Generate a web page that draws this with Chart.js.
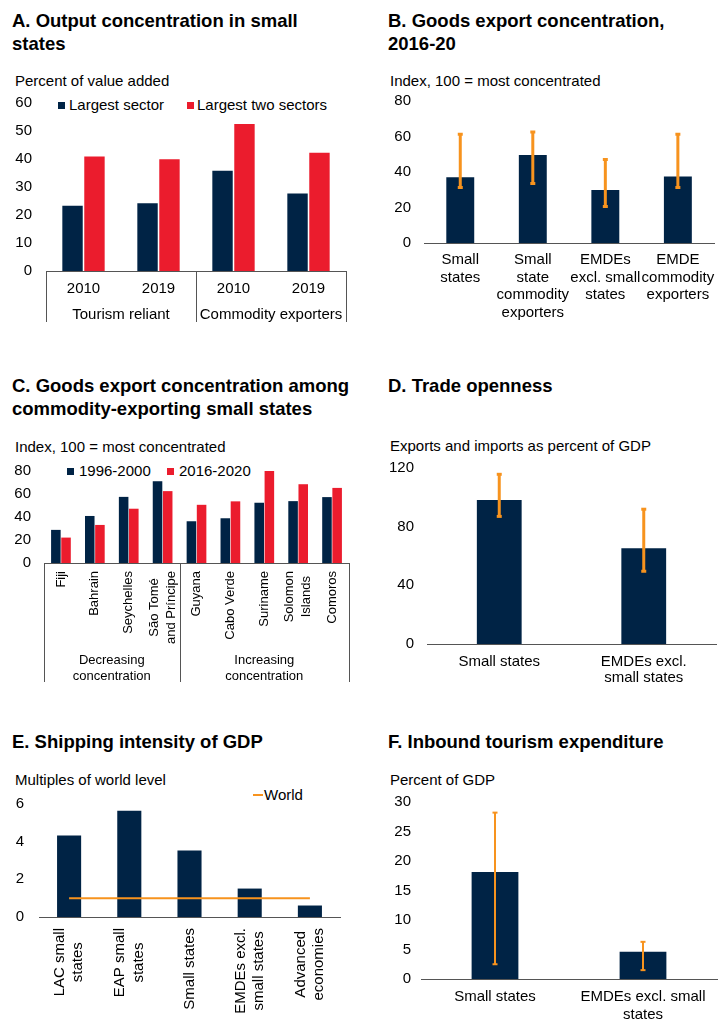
<!DOCTYPE html>
<html>
<head>
<meta charset="utf-8">
<title>Small states: concentration, openness, shipping and tourism</title>
<script src="https://cdn.jsdelivr.net/npm/chart.js@4.4.1/dist/chart.umd.min.js"></script>
<style>
  body { margin: 0; width: 723px; height: 1020px; position: relative; overflow: hidden; background: #fff;
         font-family: 'Liberation Sans', Arial, Helvetica, sans-serif; color: #000; }
  .title { position: absolute; font-weight: bold; font-size: 18.5px; line-height: 23.3px; white-space: nowrap; }
  .unit, .leg { position: absolute; font-size: 15px; line-height: 18px; white-space: nowrap; }
  .sw { position: absolute; width: 7px; height: 7px; }
  .box { position: absolute; }
  canvas { display: block; }
</style>
</head>
<body>

<!-- A -->
<div class="title" style="left:12px;top:9px">A. Output concentration in small<br>states</div>
<div class="unit" style="left:15px;top:72px">Percent of value added</div>
<div class="sw" style="left:58px;top:102px;background:#002345"></div>
<div class="leg" style="left:69px;top:96px">Largest sector</div>
<div class="sw" style="left:187px;top:102px;background:#EB1C2D"></div>
<div class="leg" style="left:197px;top:96px">Largest two sectors</div>
<div class="box" style="left:0;top:80px"><canvas id="chartA" width="362" height="260"></canvas></div>

<!-- B -->
<div class="title" style="left:388px;top:9px">B. Goods export concentration,<br>2016-20</div>
<div class="unit" style="left:390px;top:72px">Index, 100 = most concentrated</div>
<div class="box" style="left:362px;top:79px"><canvas id="chartB" width="361" height="249"></canvas></div>

<!-- C -->
<div class="title" style="left:12px;top:374px">C. Goods export concentration among<br>commodity-exporting small states</div>
<div class="unit" style="left:15px;top:438px">Index, 100 = most concentrated</div>
<div class="sw" style="left:67px;top:468px;background:#002345"></div>
<div class="leg" style="left:79px;top:462px">1996-2000</div>
<div class="sw" style="left:167px;top:468px;background:#EB1C2D"></div>
<div class="leg" style="left:179px;top:462px">2016-2020</div>
<div class="box" style="left:0;top:449px"><canvas id="chartC" width="362" height="241"></canvas></div>

<!-- D -->
<div class="title" style="left:388px;top:374px">D. Trade openness</div>
<div class="unit" style="left:390px;top:437px">Exports and imports as percent of GDP</div>
<div class="box" style="left:362px;top:446px"><canvas id="chartD" width="361" height="249"></canvas></div>

<!-- E -->
<div class="title" style="left:12px;top:730px">E. Shipping intensity of GDP</div>
<div class="unit" style="left:15px;top:771px">Multiples of world level</div>
<div style="position:absolute;left:253px;top:794px;width:10px;height:2px;background:#F7931E"></div>
<div class="leg" style="left:264px;top:786px">World</div>
<div class="box" style="left:0;top:780px"><canvas id="chartE" width="362" height="240"></canvas></div>

<!-- F -->
<div class="title" style="left:388px;top:730px">F. Inbound tourism expenditure</div>
<div class="unit" style="left:390px;top:771px">Percent of GDP</div>
<div class="box" style="left:362px;top:783px"><canvas id="chartF" width="361" height="237"></canvas></div>

<script>
// A. output concentration
const yearsA = ['2010', '2019', '2010', '2019'];
const groupsA = ['Tourism reliant', 'Commodity exporters'];
const groupSizesA = [2, 2];
const largestSector = [23.3, 24.2, 35.8, 27.7];
const largestTwo = [40.9, 39.9, 52.5, 42.2];

// B. goods export concentration, bar = median, whiskers = interquartile range
const labelsB = [['Small', 'states'], ['Small', 'state', 'commodity', 'exporters'], ['EMDEs', 'excl. small', 'states'], ['EMDE', 'commodity', 'exporters']];
const exportConc = [37.1, 49.6, 29.8, 37.4];
const exportLow = [31.3, 33.5, 20.6, 31.3];
const exportHigh = [61.3, 62.6, 47.0, 61.3];

// C. commodity-exporting small states
const countriesC = ['Fiji', 'Bahrain', 'Seychelles', ['São Tomé', 'and Príncipe'], 'Guyana', 'Cabo Verde', 'Suriname', ['Solomon', 'Islands'], 'Comoros'];
const groupsC = [['Decreasing', 'concentration'], ['Increasing', 'concentration']];
const groupSizesC = [4, 5];
const conc9600 = [28.8, 40.9, 57.5, 71.1, 36.3, 38.9, 52.4, 53.8, 57.3];
const conc1620 = [22.1, 33.1, 47.2, 62.5, 50.6, 53.6, 80.0, 68.5, 65.3];

// D. trade openness
const labelsD = ['Small states', ['EMDEs excl.', 'small states']];
const openness = [98.2, 65.2];
const opennessLow = [87.0, 49.6];
const opennessHigh = [115.7, 91.9];

// E. shipping intensity
const labelsE = [['LAC small', 'states'], ['EAP small', 'states'], 'Small states', ['EMDEs excl.', 'small states'], ['Advanced', 'economies']];
const shipping = [4.33, 5.64, 3.53, 1.51, 0.61];
const worldLevel = [1, 1, 1, 1, 1];

// F. inbound tourism
const labelsF = ['Small states', ['EMDEs excl. small', 'states']];
const tourism = [18.15, 4.6];
const tourismLow = [2.5, 1.5];
const tourismHigh = [28.2, 6.3];

const NAVY = '#002345';
const RED = '#EB1C2D';
const ORANGE = '#F7931E';
const AXIS = '#555555';
const FONT = "'Liberation Sans', Arial, Helvetica, sans-serif";

Chart.defaults.font.family = FONT;
Chart.defaults.font.size = 15;
Chart.defaults.color = '#000';
Chart.defaults.animation = false;
Chart.defaults.responsive = false;
Chart.defaults.events = [];
Chart.defaults.plugins.legend.display = false;
Chart.defaults.plugins.tooltip.enabled = false;

// group labels under the category axis, with the dividers between groups
const groupAxis = {
    id: 'groupAxis',
    afterDraw(chart, args, opts) {
        const x = chart.scales.x;
        const ctx = chart.ctx;
        const half = (x.getPixelForValue(1) - x.getPixelForValue(0)) / 2;
        const edges = [x.getPixelForValue(0) - half];
        let start = 0;
        ctx.save();
        ctx.font = opts.font;
        ctx.fillStyle = '#000';
        ctx.textAlign = 'center';
        ctx.textBaseline = 'middle';
        opts.groups.forEach((g, i) => {
            const n = opts.sizes[i];
            const left = x.getPixelForValue(start) - half;
            const right = x.getPixelForValue(start + n - 1) + half;
            edges.push(right);
            [].concat(g).forEach((line, j) => {
                ctx.fillText(line, (left + right) / 2, x.top + opts.textTop + j * opts.lineHeight);
            });
            start += n;
        });
        ctx.strokeStyle = AXIS;
        ctx.lineWidth = 1;
        edges.forEach(e => {
            const px = Math.round(e) + 0.5;
            ctx.beginPath();
            ctx.moveTo(px, x.top);
            ctx.lineTo(px, x.top + opts.lineTo);
            ctx.stroke();
        });
        ctx.restore();
    }
};

// category labels turned 90 degrees, wrapped lines centred on each other
// and the whole block centred on its category
const verticalLabels = {
    id: 'verticalLabels',
    afterDraw(chart, args, opts) {
        const x = chart.scales.x;
        const ctx = chart.ctx;
        ctx.save();
        ctx.font = opts.font;
        ctx.fillStyle = '#000';
        ctx.textAlign = 'center';
        ctx.textBaseline = 'middle';
        chart.data.labels.forEach((label, i) => {
            const lines = [].concat(label);
            const widest = Math.max(...lines.map(l => ctx.measureText(l).width));
            ctx.save();
            ctx.translate(x.getPixelForValue(i), x.top + opts.padding + widest / 2);
            ctx.rotate(-Math.PI / 2);
            lines.forEach((line, j) => {
                ctx.fillText(line, 0, (j - (lines.length - 1) / 2) * opts.lineHeight);
            });
            ctx.restore();
        });
        ctx.restore();
    }
};

// the tick padding also pads the top of the plot (half a label + padding)
function yAxis(max, step, width, pad) {
    return {
        min: 0,
        max: max,
        grid: { display: false, drawTicks: false },
        border: { display: false },
        ticks: { stepSize: step, padding: pad },
        afterFit: (s) => { s.width = width; }
    };
}

function xAxis(height, ticks) {
    return {
        grid: { display: false, drawTicks: false },
        border: { display: true, color: AXIS, width: 1 },
        ticks: Object.assign({ autoSkip: false, maxRotation: 0, minRotation: 0, padding: 8 }, ticks),
        afterFit: (s) => { s.height = height; }
    };
}

// whisker = thin floating bar plus a short cap at each end
function whiskers(low, high, thick) {
    const cap = {
        type: 'line',
        showLine: false,
        pointStyle: 'line',
        pointRadius: 2.5,
        pointBorderWidth: thick,
        pointBorderColor: ORANGE,
        order: 0
    };
    return [
        { type: 'bar', data: low.map((v, i) => [v, high[i]]), backgroundColor: ORANGE, grouped: false, maxBarThickness: thick, order: 0 },
        Object.assign({ data: high }, cap),
        Object.assign({ data: low }, cap)
    ];
}

// A
new Chart(document.getElementById('chartA'), {
    type: 'bar',
    data: {
        labels: yearsA,
        datasets: [
            { data: largestSector, backgroundColor: NAVY, categoryPercentage: 0.585, barPercentage: 0.93 },
            { data: largestTwo, backgroundColor: RED, categoryPercentage: 0.585, barPercentage: 0.93 }
        ]
    },
    options: {
        layout: { padding: { top: 0, right: 16, left: 0, bottom: 0 } },
        scales: {
            x: xAxis(69, { padding: 9 }),
            y: yAxis(60, 10, 46, 14)
        },
        plugins: {
            groupAxis: { groups: groupsA, sizes: groupSizesA, textTop: 44, lineHeight: 17, lineTo: 51, font: '15px ' + FONT }
        }
    },
    plugins: [groupAxis]
});

// B
new Chart(document.getElementById('chartB'), {
    type: 'bar',
    data: {
        labels: labelsB,
        datasets: [
            { data: exportConc, backgroundColor: NAVY, categoryPercentage: 1, barPercentage: 0.385, order: 1 }
        ].concat(whiskers(exportLow, exportHigh, 3))
    },
    options: {
        layout: { padding: { top: 0, right: 0, left: 0, bottom: 0 } },
        scales: {
            x: xAxis(85, { padding: 8, font: { lineHeight: 1.18 } }),
            y: yAxis(80, 20, 62, 13)
        }
    }
});

// C
new Chart(document.getElementById('chartC'), {
    type: 'bar',
    data: {
        labels: countriesC,
        datasets: [
            { data: conc9600, backgroundColor: NAVY, categoryPercentage: 0.6, barPercentage: 0.94 },
            { data: conc1620, backgroundColor: RED, categoryPercentage: 0.6, barPercentage: 0.94 }
        ]
    },
    options: {
        layout: { padding: { top: 0, right: 13, left: 0, bottom: 0 } },
        scales: {
            x: xAxis(127, { display: false }),
            y: yAxis(80, 20, 44, 13)
        },
        plugins: {
            verticalLabels: { padding: 8, lineHeight: 17, font: '13px ' + FONT },
            groupAxis: { groups: groupsC, sizes: groupSizesC, textTop: 97, lineHeight: 16, lineTo: 119, font: '13px ' + FONT }
        }
    },
    plugins: [verticalLabels, groupAxis]
});

// D
new Chart(document.getElementById('chartD'), {
    type: 'bar',
    data: {
        labels: labelsD,
        datasets: [
            { data: openness, backgroundColor: NAVY, categoryPercentage: 1, barPercentage: 0.31, order: 1 }
        ].concat(whiskers(opennessLow, opennessHigh, 3))
    },
    options: {
        layout: { padding: { top: 0, right: 0, left: 0, bottom: 0 } },
        scales: {
            x: xAxis(51, { padding: 9, font: { lineHeight: 1.12 } }),
            y: yAxis(120, 40, 65, 13)
        }
    }
});

// E
new Chart(document.getElementById('chartE'), {
    type: 'bar',
    data: {
        labels: labelsE,
        datasets: [
            { data: shipping, backgroundColor: NAVY, categoryPercentage: 1, barPercentage: 0.4, order: 1 },
            { type: 'line', data: worldLevel, borderColor: ORANGE, borderWidth: 2, pointRadius: 0, order: 0 }
        ]
    },
    options: {
        layout: { padding: { top: 0, right: 22, left: 0, bottom: 0 } },
        scales: {
            x: xAxis(103, { display: false }),
            y: yAxis(6, 2, 39, 15)
        },
        plugins: {
            verticalLabels: { padding: 11, lineHeight: 18.5, font: '15px ' + FONT }
        }
    },
    plugins: [verticalLabels]
});

// F
new Chart(document.getElementById('chartF'), {
    type: 'bar',
    data: {
        labels: labelsF,
        datasets: [
            { data: tourism, backgroundColor: NAVY, categoryPercentage: 1, barPercentage: 0.316, order: 1 }
        ].concat(whiskers(tourismLow, tourismHigh, 2))
    },
    options: {
        layout: { padding: { top: 0, right: 0, left: 0, bottom: 0 } },
        scales: {
            x: xAxis(41, { padding: 9, font: { lineHeight: 1.18 } }),
            y: yAxis(30, 5, 59, 10)
        }
    }
});
</script>
</body>
</html>
